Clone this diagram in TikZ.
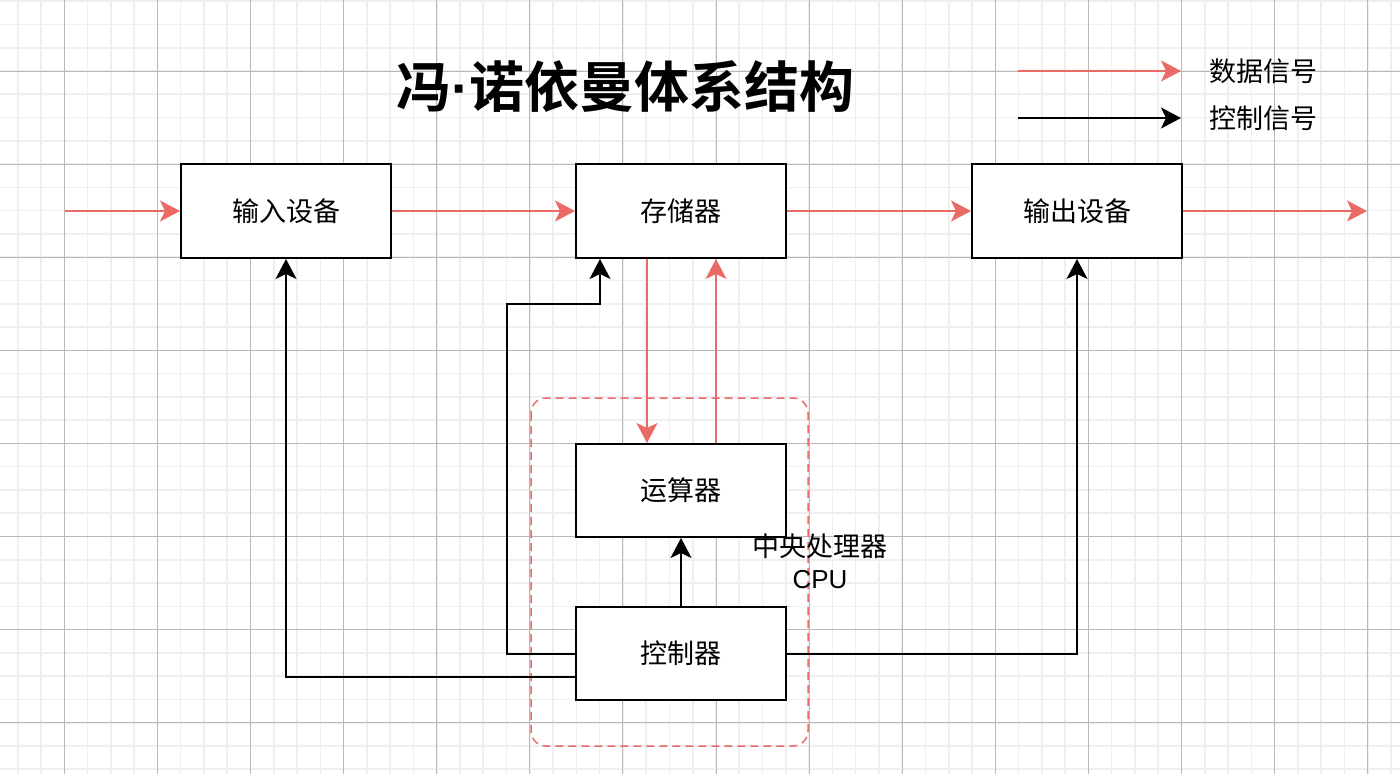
\documentclass[tikz,border=0pt]{standalone}
\usepackage{fontspec}
\usetikzlibrary{arrows.meta}
\newfontfamily\cjk{Noto Sans CJK SC}
\newfontfamily\cjktitle{Noto Sans CJK SC Bold}
\newfontfamily\lat{Liberation Sans}
\definecolor{datared}{HTML}{EA6B66}
\definecolor{minorgrid}{HTML}{EFEFEF}
\definecolor{majorgrid}{HTML}{B8B8B8}
\tikzset{
  box/.style={draw=black, line width=2pt, fill=white, minimum width=210pt, minimum height=94pt, inner sep=0pt, font=\cjk\fontsize{27}{32}\selectfont},
  tip/.style={-{Stealth[length=20pt,width=21pt,inset=5pt]}},
  dataline/.style={tip, draw=datared, line width=2pt, color=datared},
  ctlline/.style={tip, draw=black, line width=2pt},
  lbl/.style={font=\cjk\fontsize{27}{32}\selectfont, inner sep=0pt},
}
\begin{document}
\begin{tikzpicture}[x=1pt,y=-1pt]
\useasboundingbox (0,0) rectangle (1400,774);
\fill[white] (0,0) rectangle (1400,774);
% grid
\foreach \i in {-2,...,57} { \draw[minorgrid, line width=1.6pt] ({64.3+\i*23.275},0) -- ++(0,774); }
\foreach \i in {-4,...,30} { \draw[minorgrid, line width=1.6pt] (0,{71+\i*23.275}) -- ++(1400,0); }
\foreach \i in {-1,...,14} { \draw[majorgrid, line width=1pt] ({64.3+\i*93.1},0) -- ++(0,774); }
\foreach \i in {-1,...,7} { \draw[majorgrid, line width=1pt] (0,{71+\i*93.1}) -- ++(1400,0); }

% title
\node[inner sep=0pt, font=\cjktitle\fontsize{55}{64}\selectfont] (title) at (625.5,87) {冯{\lat\bfseries ·}诺依曼体系结构};

% legend
\coordinate (l1a) at (1018,71); \coordinate (l1b) at (1181,71);
\coordinate (l2a) at (1018,118); \coordinate (l2b) at (1181,118);
\draw[dataline] (l1a) -- (l1b);
\draw[ctlline] (l2a) -- (l2b);
\node[lbl, anchor=west] (leg1) at (1209,71) {数据信号};
\node[lbl, anchor=west] (leg2) at (1209,118) {控制信号};

% CPU dashed region
\draw[datared, line width=1.5pt, dash pattern=on 8pt off 5pt, rounded corners=15pt] (531,398) rectangle (808,746);

% boxes
\node[box] (in) at (286,211) {输入设备};
\node[box] (mem) at (681,211) {存储器};
\node[box] (out) at (1077,211) {输出设备};
\node[box, minimum height=93pt] (alu) at (681,490.5) {运算器};
\node[box, minimum height=93pt] (ctrl) at (681,653.5) {控制器};

% CPU label
\node[lbl] (cpu1) at (820,546) {中央处理器};
\node[inner sep=0pt, font=\lat\fontsize{26}{30}\selectfont] (cpu2) at (820,580) {CPU};

% data flow
\coordinate (src) at (65,211);
\coordinate (dst) at (1367,211);
\draw[dataline] (src) -- (in.west);
\draw[dataline] (in.east) -- (mem.west);
\draw[dataline] (mem.east) -- (out.west);
\draw[dataline] (out.east) -- (dst);
\draw[dataline] ([xshift=-34pt]mem.south) -- ([xshift=-34pt]alu.north);
\draw[dataline] ([xshift=35pt]alu.north) -- ([xshift=35pt]mem.south);

% control flow
\draw[ctlline] (ctrl.north) -- (alu.south);
\draw[ctlline] (ctrl.west) -| (507,304) -| ([xshift=-81pt]mem.south);
\draw[ctlline] ([yshift=-23pt]ctrl.west) -| (in.south);
\draw[ctlline] (ctrl.east) -| (out.south);
\end{tikzpicture}
\end{document}
